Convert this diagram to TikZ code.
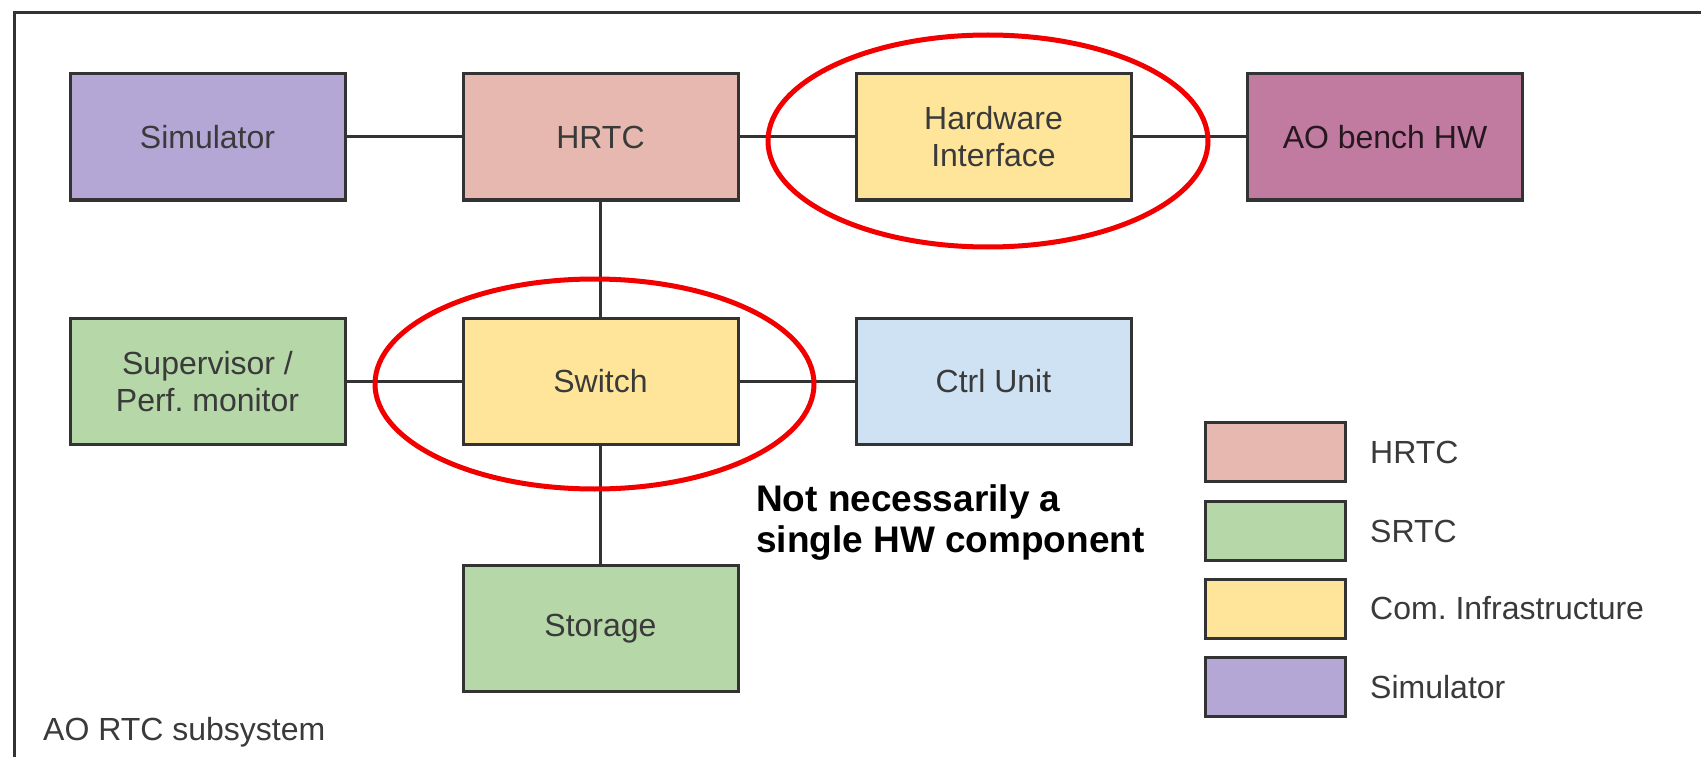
\documentclass[tikz,border=0pt]{standalone}
\usepackage{fontspec}
\setmainfont{Liberation Sans}
\frenchspacing
\definecolor{cpurple}{HTML}{B4A7D6}
\definecolor{cpink}{HTML}{E6B8AF}
\definecolor{cyellow}{HTML}{FFE599}
\definecolor{cgreen}{HTML}{B6D7A8}
\definecolor{cblue}{HTML}{CFE2F3}
\definecolor{cmagenta}{HTML}{C27BA0}
\definecolor{edge}{HTML}{333333}
\definecolor{txt}{HTML}{3A3A3A}
\definecolor{hired}{HTML}{F20000}
\begin{document}
\begin{tikzpicture}[x=1pt,y=-1pt,
  blk/.style={draw=edge, line width=3pt, minimum width=275pt, minimum height=126pt,
    inner sep=0pt, align=center, text=txt, font=\fontsize{32}{37}\selectfont},
  legbox/.style={draw=edge, line width=3pt, minimum width=140pt, minimum height=59pt, inner sep=0pt},
  legtxt/.style={anchor=west, text=txt, inner sep=0pt, font=\fontsize{32}{37}\selectfont},
  conn/.style={draw=edge, line width=3pt},
  redring/.style={draw=hired, line width=5pt},
  note/.style={anchor=north west, inner sep=0pt, align=left, font=\fontsize{37}{41}\selectfont\bfseries}]
\useasboundingbox (0,0) rectangle (1701,757);
\fill[white] (0,0) rectangle (1701,757);
% frame
\draw[edge, line width=3pt] (1701,12.5) -- (14,12.5) -- (14,757);
% nodes
\node[blk, fill=cpurple] (sim) at (207.5,137) {Simulator};
\node[blk, fill=cpink] (hrtc) at (600.5,137) {HRTC};
\node[blk, fill=cyellow] (hwi) at (993.5,137) {Hardware\\Interface};
\node[blk, fill=cmagenta, text=black!80!cmagenta] (aob) at (1385,137) {AO bench HW};
\node[blk, fill=cgreen] (sup) at (207.5,381.5) {Supervisor /\\Perf. monitor};
\node[blk, fill=cyellow] (sw) at (600.5,381.5) {Switch};
\node[blk, fill=cblue] (ctrl) at (993.5,381.5) {Ctrl Unit};
\node[blk, fill=cgreen] (sto) at (600.5,628.5) {Storage};
% connectors
\draw[conn] (sim) -- (hrtc);
\draw[conn] (hrtc) -- (hwi);
\draw[conn] (hwi) -- (aob);
\draw[conn] (hrtc) -- (sw);
\draw[conn] (sup) -- (sw);
\draw[conn] (sw) -- (ctrl);
\draw[conn] (sw) -- (sto);
% red ellipses
\draw[redring] (988,141) ellipse [x radius=220pt, y radius=106pt];
\draw[redring] (594.5,384) ellipse [x radius=219.5pt, y radius=105pt];
% annotation
\node[note] (nt) at (756,484) {Not necessarily a\\single HW component};
% legend
\node[legbox, fill=cpink] (l1) at (1275.5,452) {};
\node[legbox, fill=cgreen] (l2) at (1275.5,531) {};
\node[legbox, fill=cyellow] (l3) at (1275.5,608.5) {};
\node[legbox, fill=cpurple] (l4) at (1275.5,687) {};
\node[legtxt] (t1) at (1370,452) {HRTC};
\node[legtxt] (t2) at (1370,531) {SRTC};
\node[legtxt] (t3) at (1370,608.5) {Com. Infrastructure};
\node[legtxt] (t4) at (1370,687) {Simulator};
% caption
\node[anchor=base west, inner sep=0pt, text=txt, font=\fontsize{32}{37}\selectfont] (cap) at (43,740) {AO RTC subsystem};
\end{tikzpicture}
\end{document}
